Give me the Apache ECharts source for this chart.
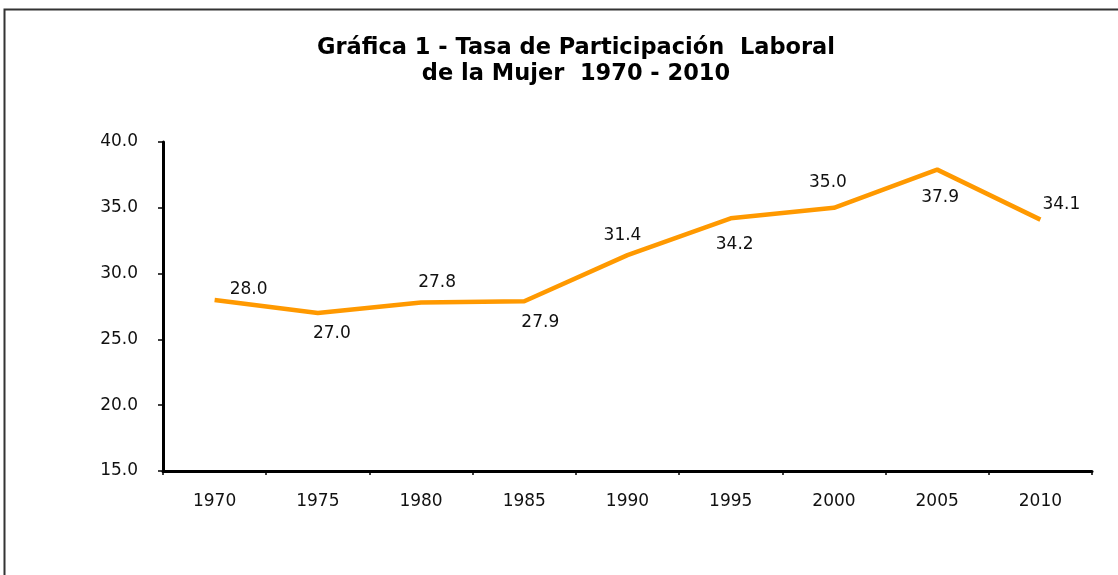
<!DOCTYPE html>
<html>
<head>
<meta charset="utf-8">
<script src="https://cdn.jsdelivr.net/npm/echarts@6/dist/echarts.min.js"></script>
<style>
html,body{margin:0;padding:0;background:#fff;}
#c{width:1118px;height:575px;}
</style>
</head>
<body>
<div id="c"></div>
<script>
const titleLines = ['Gráfica 1 - Tasa de Participación  Laboral', 'de la Mujer  1970 - 2010'];
const years = ['1970', '1975', '1980', '1985', '1990', '1995', '2000', '2005', '2010'];
const rates = [28.0, 27.0, 27.8, 27.9, 31.4, 34.2, 35.0, 37.9, 34.1];
const yMin = 15, yMax = 40, yStep = 5;
// label offsets (style only)
const labelOffsets = [[34,-10],[14,20],[16,-20],[16,21],[-5,-20],[4,26],[-6,-25],[3,28],[21,-15]];

const chart = echarts.init(document.getElementById('c'), null, {renderer: 'canvas'});
const font = 'DejaVu Sans';
const titleStyle = {fontFamily: 'DejaVu Sans', fontWeight: 'bold', fontSize: 22.5, fill: '#000', textAlign: 'center', textVerticalAlign: 'middle'};
chart.setOption({
  animation: false,
  backgroundColor: '#fff',
  graphic: [{
    type: 'rect', silent: true,
    shape: {x: 4.5, y: 9.5, width: 1400, height: 800},
    style: {fill: 'none', stroke: '#333', lineWidth: 2}
  }, {
    type: 'text', silent: true, x: 576, y: 48,
    style: Object.assign({text: titleLines[0]}, titleStyle)
  }, {
    type: 'text', silent: true, x: 576, y: 74,
    style: Object.assign({text: titleLines[1]}, titleStyle)
  }],
  grid: {left: 163, top: 142, right: 26, bottom: 104, containLabel: false},
  xAxis: {
    type: 'category',
    data: years,
    boundaryGap: true,
    axisLine: {lineStyle: {color: '#000', width: 3}},
    axisTick: {show: true, length: 4, lineStyle: {color: '#000', width: 1.5}},
    axisLabel: {fontFamily: font, fontSize: 17, color: '#111', margin: 22}
  },
  yAxis: {
    type: 'value',
    min: yMin, max: yMax, interval: yStep,
    axisLine: {show: true, lineStyle: {color: '#000', width: 3}},
    axisTick: {show: true, length: 5, lineStyle: {color: '#000', width: 1.5}},
    splitLine: {show: false},
    axisLabel: {fontFamily: font, fontSize: 17, color: '#111', margin: 25, formatter: v => v.toFixed(1)}
  },
  series: [{
    type: 'line',
    data: rates.map((v, i) => ({
      value: v,
      label: {offset: labelOffsets[i]}
    })),
    symbol: 'circle',
    symbolSize: 1,
    showSymbol: true,
    showAllSymbol: true,
    itemStyle: {color: 'rgba(255,153,0,0)', borderWidth: 0},
    lineStyle: {color: '#FF9900', width: 4.5},
    label: {
      show: true,
      position: 'inside',
      align: 'center',
      verticalAlign: 'middle',
      fontFamily: font, fontSize: 17, color: '#111',
      formatter: p => p.value.toFixed(1)
    }
  }]
});
</script>
</body>
</html>
